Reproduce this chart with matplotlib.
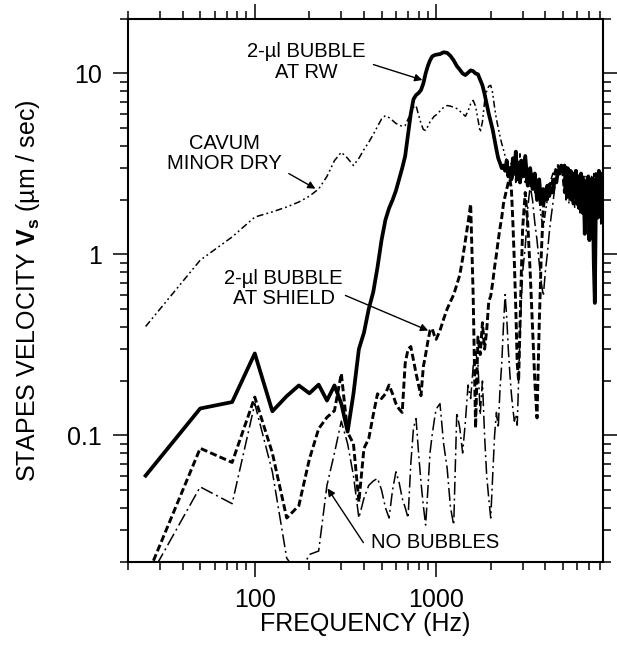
import numpy as np
import matplotlib
matplotlib.use("Agg")
import matplotlib.pyplot as plt
from matplotlib.ticker import FixedLocator, FuncFormatter, NullFormatter, LogLocator

plt.rcParams['font.family'] = ['Liberation Sans', 'DejaVu Sans']
plt.rcParams['mathtext.fontset'] = 'custom'
plt.rcParams['mathtext.rm'] = 'Liberation Sans'
plt.rcParams['mathtext.bf'] = 'Liberation Sans:bold'

# frequency grid (Hz): 25 Hz steps to 1 kHz, 50 Hz steps to 3 kHz, 100 Hz steps above
freq = np.concatenate([np.arange(25, 1001, 25),
                       np.arange(1050, 3001, 50),
                       np.arange(3100, 8201, 100)])

# 2-ul bubble at round window (thick solid)
bubble_rw = [0.060, 0.141, 0.153, 0.284, 0.136, 0.165, 0.189, 0.171, 0.191, 0.156,
             0.189, 0.150, 0.105, 0.170, 0.300, 0.370, 0.500, 0.620, 0.850, 1.20,
             1.55, 1.80, 2.00, 2.25, 2.60, 3.00, 3.50, 4.60, 6.00, 7.20,
             7.60, 7.80, 8.10, 8.80, 10.0, 11.0, 11.8, 12.4, 12.6, 12.7,
             12.8, 13.1, 13.0, 12.5, 11.8, 11.0, 10.5, 10.0, 9.8, 10.1,
             10.4, 10.3, 10.0, 9.9, 9.2, 8.6, 7.7, 6.8, 6.0, 5.4,
             4.9, 4.3, 3.8, 3.4, 3.2, 3.0, 3.1, 2.9, 3.3, 2.7,
             3.0, 2.6, 3.4, 2.8, 3.7, 2.6, 3.2, 2.5, 3.3, 2.7,
             3.5, 2.4, 3.0, 2.3, 2.8, 2.0, 2.6, 1.9, 2.3, 2.0,
             2.4, 2.1, 2.3, 2.2, 2.6, 2.5, 2.9, 2.8, 3.1, 2.9,
             3.1, 2.2, 3.0, 2.1, 2.9, 2.0, 2.8, 2.1, 2.9, 1.9,
             2.7, 1.8, 2.8, 1.7, 2.6, 1.3, 2.5, 1.6, 2.7, 1.2,
             2.6, 1.7, 2.4, 0.9, 0.54, 1.9, 2.7, 1.6, 2.9, 1.8,
             2.8, 1.5]

# 2-ul bubble at shield (thick dashed)
bubble_shield = [0.016, 0.085, 0.071, 0.163, 0.080, 0.035, 0.041, 0.074, 0.109, 0.126,
                 0.137, 0.220, 0.104, 0.090, 0.043, 0.085, 0.096, 0.130, 0.170, 0.160,
                 0.170, 0.190, 0.170, 0.150, 0.140, 0.134, 0.250, 0.300, 0.310, 0.260,
                 0.220, 0.190, 0.166, 0.240, 0.280, 0.330, 0.380, 0.390, 0.360, 0.340,
                 0.380, 0.440, 0.500, 0.550, 0.600, 0.680, 0.770, 0.950, 1.200, 1.500,
                 1.900, 0.600, 0.110, 0.350, 0.280, 0.420, 0.300, 0.380, 0.550, 0.590,
                 0.700, 0.850, 1.000, 1.200, 1.400, 1.600, 1.900, 2.100, 2.300, 2.500,
                 2.600, 2.300, 1.500, 0.900, 0.500, 0.250, 0.200, 0.400, 0.800, 1.400,
                 2.200, 1.500, 0.800, 0.400, 0.200, 0.125, 0.400, 1.000, 1.800, 2.200,
                 2.000, 2.500, 2.300, 2.600, 2.800, 3.000, 3.100, 2.900, 3.000, 2.800,
                 2.200, 3.000, 2.000, 2.900, 2.100, 2.800, 1.900, 2.800, 2.000, 2.700,
                 1.800, 2.600, 1.900, 2.700, 1.700, 2.500, 1.800, 2.600, 1.600, 2.500,
                 1.900, 2.600, 1.700, 2.700, 1.800, 2.800, 1.900, 2.700, 2.000, 2.600,
                 1.800, 2.400]

# no bubbles (thin long dash-dot)
no_bubbles = [0.015, 0.052, 0.042, 0.150, 0.063, 0.021, 0.017, 0.022, 0.023, 0.053,
              0.080, 0.120, 0.090, 0.060, 0.035, 0.045, 0.053, 0.056, 0.058, 0.050,
              0.040, 0.035, 0.050, 0.063, 0.055, 0.045, 0.040, 0.035, 0.070, 0.110,
              0.124, 0.080, 0.055, 0.041, 0.032, 0.050, 0.080, 0.100, 0.120, 0.140,
              0.150, 0.090, 0.066, 0.040, 0.032, 0.134, 0.110, 0.080, 0.120, 0.190,
              0.160, 0.240, 0.290, 0.250, 0.130, 0.200, 0.100, 0.060, 0.045, 0.035,
              0.060, 0.100, 0.134, 0.110, 0.180, 0.250, 0.400, 0.600, 0.450, 0.300,
              0.220, 0.170, 0.140, 0.120, 0.130, 0.114, 0.200, 0.350, 0.550, 0.800,
              1.100, 1.800, 2.400, 2.000, 1.500, 1.200, 0.900, 0.700, 0.590, 0.800,
              1.000, 1.300, 1.600, 1.900, 2.300, 2.600, 2.900, 3.000, 2.800, 3.000,
              2.900, 2.000, 2.800, 1.900, 2.700, 2.100, 2.600, 1.800, 2.700, 2.000,
              2.500, 1.700, 2.600, 1.800, 2.400, 1.600, 2.500, 1.900, 2.600, 1.700,
              2.500, 2.000, 2.700, 1.800, 2.600, 2.100, 2.800, 1.900, 2.500, 2.200,
              2.700, 2.000]

# cavum minor dry (thin dash-dot-dot)
cavum_dry = [0.40, 0.93, 1.25, 1.61, 1.72, 1.83, 1.95, 2.10, 2.30, 2.70,
             3.30, 3.67, 3.40, 3.10, 3.40, 3.80, 4.17, 4.60, 5.10, 5.60,
             5.85, 5.70, 5.50, 5.30, 5.20, 5.10, 5.16, 5.60, 6.00, 6.50,
             6.65, 5.90, 5.30, 4.90, 4.85, 5.10, 5.40, 5.60, 5.80, 5.90,
             6.20, 6.50, 6.65, 6.60, 6.50, 6.40, 6.20, 6.00, 5.80, 6.20,
             6.80, 7.10, 6.60, 5.60, 4.74, 5.40, 7.00, 8.00, 8.50, 8.60,
             7.80, 6.50, 5.60, 5.00, 4.50, 4.10, 3.80, 3.50, 3.30, 3.00,
             2.90, 3.20, 2.60, 3.00, 2.50, 3.40, 2.80, 3.60, 2.60, 3.10,
             2.50, 3.00, 2.40, 2.80, 2.20, 2.60, 2.00, 1.60, 1.40, 1.70,
             2.00, 2.40, 2.60, 2.80, 2.90, 3.00, 3.10, 2.90, 3.00, 2.80,
             2.30, 3.10, 2.20, 3.00, 2.30, 2.90, 2.10, 2.80, 2.20, 2.90,
             2.00, 2.70, 2.10, 2.60, 1.90, 2.70, 2.00, 2.60, 1.80, 2.50,
             2.10, 2.70, 2.20, 2.80, 2.00, 2.60, 2.30, 2.90, 2.10, 2.80,
             2.40, 2.60]

fig = plt.figure(figsize=(6.17, 6.48), dpi=100)
ax = fig.add_axes([0.2075, 0.1327, 0.7695, 0.838])

ax.plot(freq, cavum_dry, color='black', lw=1.1,
        linestyle=(0, (4.5, 2, 1.2, 2, 1.2, 2)))
ax.plot(freq, no_bubbles, color='black', lw=1.1,
        linestyle=(0, (8.5, 2.5, 1.3, 2.5)))
ax.plot(freq, bubble_shield, color='black', lw=2.1,
        linestyle=(0, (2.4, 1.1)))
ax.plot(freq, bubble_rw, color='black', lw=2.7, solid_joinstyle='round')

ax.set_xscale('log')
ax.set_yscale('log')
ax.set_xlim(20, 8300)
ax.set_ylim(0.02, 20)

ax.xaxis.set_major_locator(FixedLocator([100, 1000]))
ax.xaxis.set_minor_locator(LogLocator(base=10, subs=np.arange(2, 10)))
ax.yaxis.set_major_locator(FixedLocator([0.1, 1, 10]))
ax.yaxis.set_minor_locator(LogLocator(base=10, subs=np.arange(2, 10)))
fmt = FuncFormatter(lambda v, _: f"{v:g}")
ax.xaxis.set_major_formatter(fmt)
ax.yaxis.set_major_formatter(fmt)
ax.xaxis.set_minor_formatter(NullFormatter())
ax.yaxis.set_minor_formatter(NullFormatter())

ax.tick_params(which='both', direction='out', top=True, right=True,
               width=1.1, labelsize=18, pad=8)
ax.tick_params(which='major', length=11)
ax.tick_params(which='minor', length=5.5)
for sp in ax.spines.values():
    sp.set_linewidth(1.5)

ax.set_xlabel('FREQUENCY (Hz)', fontsize=18, labelpad=0)
ax.set_ylabel(r'STAPES VELOCITY $\mathbf{V_s}$ (µm / sec)', fontsize=18, labelpad=18)

akw = dict(arrowstyle='-|>', color='black', lw=1.0, mutation_scale=11,
           shrinkA=0, shrinkB=0)
tkw = dict(ha='center', va='center', fontsize=14.5, linespacing=1.1)

ax.text(193, 11.6, '2-µl BUBBLE\nAT RW', **tkw)
ax.annotate('', xy=(840, 9.2), xytext=(451, 11.2), arrowprops=akw)

ax.text(68, 3.62, 'CAVUM\nMINOR DRY', **tkw)
ax.annotate('', xy=(216, 2.31), xytext=(154, 2.8), arrowprops=akw)

ax.text(144, 0.65, '2-µl BUBBLE\nAT SHIELD', **tkw)
ax.annotate('', xy=(904, 0.38), xytext=(316, 0.594), arrowprops=akw)

ax.text(986, 0.0256, 'NO BUBBLES', **tkw)
ax.annotate('', xy=(252, 0.051), xytext=(397, 0.0256), arrowprops=akw)

fig.savefig('out.png', dpi=100)
